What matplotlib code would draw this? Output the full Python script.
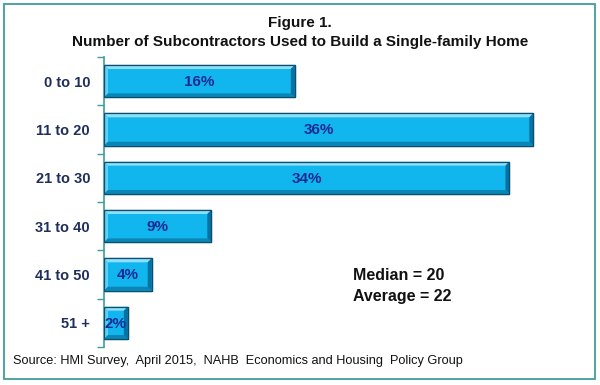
import numpy as np
import matplotlib.pyplot as plt
from matplotlib.patches import Rectangle, Polygon

# DATA
categories = ["0 to 10", "11 to 20", "21 to 30", "31 to 40", "41 to 50", "51 +"]
shares = [16, 36, 34, 9, 4, 2]
title_lines = ["Figure 1.", "Number of Subcontractors Used to Build a Single-family Home"]
stats_text = ["Median = 20", "Average = 22"]
source_text = "Source: HMI Survey,  April 2015,  NAHB  Economics and Housing  Policy Group"

plt.rcParams["font.family"] = ["Liberation Sans", "DejaVu Sans"]

W, H = 600, 385
fig = plt.figure(figsize=(W / 100, H / 100), dpi=100)
fig.patch.set_facecolor("white")

# teal frame round the whole picture
fig.add_artist(Rectangle((4 / W, 6 / H), 591 / W, 375 / H, transform=fig.transFigure,
                         fill=False, edgecolor="#3f9c9c", linewidth=1.3))

ax_left, ax_top, ax_w, ax_h = 104, 57, 477, 290
ax = fig.add_axes([ax_left / W, 1 - (ax_top + ax_h) / H, ax_w / W, ax_h / H])
y = np.arange(len(categories))
bar_h = 0.67
xmax = 40

bars = ax.barh(y, shares, height=bar_h, color="#12b6ee", edgecolor="#0b4f6e", linewidth=0.9,
               zorder=2)

# bevel look: light top/left, dark bottom/right
px_x = xmax / ax_w
px_y = len(categories) / ax_h
bx, by = 4 * px_x, 4 * px_y
for b in bars:
    x0, y0 = b.get_x(), b.get_y()
    x1, y1 = x0 + b.get_width(), y0 + b.get_height()
    # y axis is inverted: y0 is the top edge on screen
    top = [(x0, y0), (x1, y0), (x1 - bx, y0 + by), (x0 + bx, y0 + by)]
    bot = [(x0, y1), (x1, y1), (x1 - bx, y1 - by), (x0 + bx, y1 - by)]
    left = [(x0, y0), (x0 + bx, y0 + by), (x0 + bx, y1 - by), (x0, y1)]
    right = [(x1, y0), (x1 - bx, y0 + by), (x1 - bx, y1 - by), (x1, y1)]
    for pts, c in [(top, "#8ee0fa"), (left, "#5fd0f5"), (bot, "#0a86b6"), (right, "#0772a2")]:
        ax.add_patch(Polygon(pts, closed=True, facecolor=c, edgecolor="none", zorder=3))
    ax.add_patch(Rectangle((x0, y0), b.get_width(), b.get_height(), fill=False,
                           edgecolor="#0b4f6e", linewidth=0.9, zorder=4))

for yi, v in zip(y, shares):
    ax.text(v / 2, yi + 0.02, f"{v}%", ha="center", va="center", fontsize=11,
            fontweight="bold", color="#1a2a94", zorder=5)

ax.set_xlim(0, xmax)
ax.set_ylim(len(categories) - 0.5, -0.5)
ax.set_xticks([])
ax.set_yticks(y)
ax.set_yticklabels(categories, fontsize=10.5, fontweight="bold", color="#1f2f5c")
ax.set_yticks(np.arange(len(categories) + 1) - 0.5, minor=True)
ax.tick_params(axis="y", which="major", length=0, pad=10)
ax.tick_params(axis="y", which="minor", length=5, color="#3f9c9c", width=1)
for s in ["top", "right", "bottom"]:
    ax.spines[s].set_visible(False)
ax.spines["left"].set_color("#3f9c9c")
ax.spines["left"].set_linewidth(1.2)

fig.text(0.5, 1 - 23 / H, title_lines[0], ha="center", va="center", fontsize=11,
         fontweight="bold", color="#111111")
fig.text(0.5, 1 - 42 / H, title_lines[1], ha="center", va="center", fontsize=11,
         fontweight="bold", color="#111111")

fig.text(353 / W, 1 - 276 / H, stats_text[0], ha="left", va="center", fontsize=11.5,
         fontweight="bold", color="#111111")
fig.text(353 / W, 1 - 296 / H, stats_text[1], ha="left", va="center", fontsize=11.5,
         fontweight="bold", color="#111111")

fig.text(13 / W, 1 - 361 / H, source_text, ha="left", va="center", fontsize=9.2, color="#111111")

fig.savefig("out.png", dpi=100)
